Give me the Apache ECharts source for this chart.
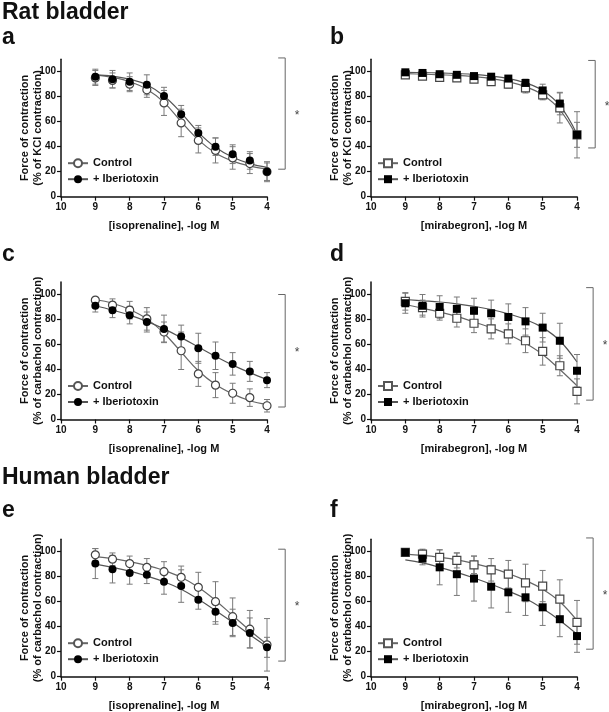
<!DOCTYPE html>
<html>
<head>
<meta charset="utf-8">
<script src="https://cdn.jsdelivr.net/npm/echarts@6/dist/echarts.min.js"></script>
<style>
html,body{margin:0;padding:0;background:#fff;}
#chart{width:609px;height:712px;}
</style>
</head>
<body>
<div id="chart"></div>
<script>
// ---------- data ----------
const concentrations = [9, 8.5, 8, 7.5, 7, 6.5, 6, 5.5, 5, 4.5, 4];
const xTickValues = [10, 9, 8, 7, 6, 5, 4];
const yTickValues = [0, 20, 40, 60, 80, 100];
const seriesNames = ['Control', '+ Iberiotoxin'];
const panelLetters = ['a', 'b', 'c', 'd', 'e', 'f'];
const sectionTitles = ['Rat bladder', 'Human bladder'];
const xTitles = ['[isoprenaline], -log M', '[mirabegron], -log M', '[isoprenaline], -log M', '[mirabegron], -log M', '[isoprenaline], -log M', '[mirabegron], -log M'];
const yTitles = ['Force of contraction\n(% of KCl contraction)', 'Force of contraction\n(% of KCl contraction)',
  'Force of contraction\n(% of carbachol contraction)', 'Force of contraction\n(% of carbachol contraction)',
  'Force of contraction\n(% of carbachol contraction)', 'Force of contraction\n(% of carbachol contraction)'];

// panel a
const aCtrlMean = [95, 93, 90, 85.5, 75, 59, 45, 37, 31, 26.5, 20];
const aCtrlErr  = [6, 6, 6, 6, 10, 11, 10, 10, 9, 8, 8];
const aIberMean = [96, 94, 92, 89.5, 80.5, 66, 51, 40, 34, 29, 20];
const aIberErr  = [6, 7, 7, 8, 7, 7, 6, 7, 7.5, 7, 7];
const aCtrlFit  = [97.5, 95.5, 92, 86, 75.5, 60, 45.5, 35, 28.5, 24.5, 22];
const aIberFit  = [97.5, 96.5, 94, 89.5, 80.5, 67, 51.5, 39.5, 31.5, 26.5, 23.5];
// panel b
const bCtrlMean = [97.5, 96.5, 95.5, 95, 94, 92, 90, 87, 81.5, 71, 49.5];
const bCtrlErr  = [1.5, 1.5, 1.5, 1.5, 2, 2, 3, 4, 4, 12, 10];
const bIberMean = [99.5, 99, 98, 97.5, 96.5, 96, 94.5, 91, 85, 74.5, 49.5];
const bIberErr  = [1, 1, 1, 1, 1.5, 1.5, 2, 3, 5, 9, 18.5];
const bCtrlFit  = [98.5, 98, 97.5, 97, 96, 94.5, 92, 88, 81.5, 69.5, 48];
const bIberFit  = [99.5, 99.3, 99, 98.5, 97.8, 96.5, 94.5, 91, 85, 73, 50];
// panel c
const cCtrlMean = [95.5, 91.5, 87.5, 80.5, 70, 55, 36.5, 27.5, 21, 17.5, 11];
const cCtrlErr  = [2, 5, 7, 9, 8, 15, 10, 10, 8, 7, 5];
const cIberMean = [91, 87.5, 83.5, 78, 72.5, 66.5, 57, 51, 44.5, 38.5, 31.5];
const cIberErr  = [5, 6, 7, 8, 11, 9, 12, 11, 9, 8, 6];
const cCtrlFit  = [96, 93, 88, 80.5, 69, 54, 39, 28, 20.5, 15, 12];
const cIberFit  = [91, 87.5, 83.5, 78.5, 72.5, 65.5, 58, 50.5, 43.5, 37.5, 32];
// panel d
const dCtrlMean = [94.5, 89.5, 85, 81, 77, 72.5, 68.5, 63, 54.5, 43, 22.5];
const dCtrlErr  = [7, 6, 5.5, 7, 7.5, 8, 8, 9.5, 11, 8, 10];
const dIberMean = [93, 91, 90, 88.5, 87, 85, 82, 78.5, 73.5, 63, 39];
const dIberErr  = [8, 9, 9, 9.5, 10, 10.5, 10.5, 11, 11.5, 14, 13];
const dCtrlFit  = [92, 89, 86, 82.5, 78, 73.5, 68, 61, 52, 40, 27];
const dIberFit  = [96, 95, 94, 92.5, 90.5, 88, 84.5, 80, 73.5, 63, 46];
// panel e
const eCtrlMean = [97.5, 94, 90.5, 87.5, 84, 79.5, 71.5, 60, 48, 38, 25.5];
const eCtrlErr  = [5, 5, 6, 7, 8, 9, 12, 16, 15, 15, 21];
const eIberMean = [90.5, 86, 83, 81.5, 76, 72.5, 61.5, 52, 43, 35, 23.5];
const eIberErr  = [12, 11, 9, 7, 10, 13, 7.5, 10, 11, 12, 8];
const eCtrlFit  = [96, 94.5, 92, 89, 85, 79.5, 71.5, 61, 49, 37, 26];
const eIberFit  = [90, 87.5, 84.5, 80.5, 76, 70, 62, 53, 43.5, 33.5, 24];
// panel f
const fCtrlMean = [99.5, 98, 95.5, 93, 89.5, 85.5, 82, 75, 72.5, 62, 43.5];
const fCtrlErr  = [1, 4, 6, 6, 7, 9, 11, 15, 12.5, 15.5, 17.5];
const fIberMean = [99.5, 94.5, 87.5, 82, 78.5, 72, 67.5, 63.5, 55.5, 46, 32.5];
const fIberErr  = [1, 5, 14, 17, 18, 17, 16, 14.5, 14.5, 14, 13];
const fCtrlFit  = [98, 97, 95.5, 93.5, 90.5, 87, 82.5, 77, 70, 60, 45];
const fIberFit  = [93.5, 91, 87.5, 83.5, 79, 74, 68.5, 62.5, 54.5, 45, 34];

// significance brackets: [x position (-log M), top value, bottom value]
const bracketA = [3.47, 111, 22];
const bracketB = [3.47, 109, 39];
const bracketC = [3.47, 100, 10];
const bracketD = [3.53, 105.5, 15.5];
const bracketE = [3.47, 102, 12.5];
const bracketF = [3.53, 111, 22];

// ---------- layout / style ----------
const FONT = '"Liberation Sans", Arial, Helvetica, sans-serif';
const gridLefts = [61, 371];
const gridTops = [59.2, 282, 539.2];
const gridW = 206, gridH = 137.5;

const panels = [
  {id:'a', ctrl:aCtrlMean, ctrlE:aCtrlErr, iber:aIberMean, iberE:aIberErr, ctrlFit:aCtrlFit, iberFit:aIberFit, br:bracketA, sym:'circle'},
  {id:'b', ctrl:bCtrlMean, ctrlE:bCtrlErr, iber:bIberMean, iberE:bIberErr, ctrlFit:bCtrlFit, iberFit:bIberFit, br:bracketB, sym:'rect'},
  {id:'c', ctrl:cCtrlMean, ctrlE:cCtrlErr, iber:cIberMean, iberE:cIberErr, ctrlFit:cCtrlFit, iberFit:cIberFit, br:bracketC, sym:'circle'},
  {id:'d', ctrl:dCtrlMean, ctrlE:dCtrlErr, iber:dIberMean, iberE:dIberErr, ctrlFit:dCtrlFit, iberFit:dIberFit, br:bracketD, sym:'rect'},
  {id:'e', ctrl:eCtrlMean, ctrlE:eCtrlErr, iber:eIberMean, iberE:eIberErr, ctrlFit:eCtrlFit, iberFit:eIberFit, br:bracketE, sym:'circle'},
  {id:'f', ctrl:fCtrlMean, ctrlE:fCtrlErr, iber:fIberMean, iberE:fIberErr, ctrlFit:fCtrlFit, iberFit:fIberFit, br:bracketF, sym:'rect'}
];

const grid = [], xAxis = [], yAxis = [], series = [], legend = [];

function errRender(params, api) {
  const x = api.value(0), lo = api.value(1), hi = api.value(2);
  const pLo = api.coord([x, lo]), pHi = api.coord([x, hi]);
  const w = 3;
  const st = {stroke:'#7a7a7a', lineWidth:1};
  return {type:'group', children:[
    {type:'line', shape:{x1:pLo[0], y1:pLo[1], x2:pHi[0], y2:pHi[1]}, style:st},
    {type:'line', shape:{x1:pLo[0]-w, y1:pLo[1], x2:pLo[0]+w, y2:pLo[1]}, style:st},
    {type:'line', shape:{x1:pHi[0]-w, y1:pHi[1], x2:pHi[0]+w, y2:pHi[1]}, style:st}
  ]};
}
function bracketRender(params, api) {
  const x = api.value(0), top = api.value(1), bot = api.value(2);
  const pT = api.coord([x, top]), pB = api.coord([x, bot]);
  const st = {stroke:'#666', lineWidth:1};
  return {type:'group', children:[
    {type:'line', shape:{x1:pT[0], y1:pT[1], x2:pB[0], y2:pB[1]}, style:st},
    {type:'line', shape:{x1:pT[0]-7, y1:pT[1], x2:pT[0], y2:pT[1]}, style:st},
    {type:'line', shape:{x1:pB[0]-7, y1:pB[1], x2:pB[0], y2:pB[1]}, style:st},
    {type:'text', x:pT[0]+12, y:(pT[1]+pB[1])/2 + 2, style:{text:'*', fontSize:12, fontFamily:FONT, fill:'#444', align:'center', verticalAlign:'middle'}}
  ]};
}

panels.forEach((p, i) => {
  const col = i % 2, row = Math.floor(i / 2);
  grid.push({left:gridLefts[col], top:gridTops[row], width:gridW, height:gridH, outerBoundsMode:'none', containLabel:false});
  xAxis.push({
    type:'value', gridIndex:i, min:4, max:10, interval:1, inverse:true,
    name:xTitles[i], nameLocation:'middle', nameGap:24, nameMoveOverlap:false,
    nameTextStyle:{fontSize:11, fontWeight:'bold', fontFamily:FONT, color:'#111'},
    axisLine:{lineStyle:{color:'#111', width:1.5}},
    axisTick:{show:true, length:4, lineStyle:{color:'#111', width:1.2}},
    axisLabel:{fontSize:10, fontWeight:'bold', fontFamily:FONT, color:'#111', margin:6},
    splitLine:{show:false}
  });
  yAxis.push({
    type:'value', gridIndex:i, min:0, max:110, interval:20,
    name:yTitles[i], nameLocation:'middle', nameGap:17, nameRotate:90, nameMoveOverlap:false,
    nameTextStyle:{fontSize:11, fontWeight:'bold', fontFamily:FONT, color:'#111', lineHeight:13},
    axisLine:{show:true, lineStyle:{color:'#111', width:1.5}},
    axisTick:{show:true, length:4, customValues:yTickValues, lineStyle:{color:'#111', width:1.2}},
    axisLabel:{fontSize:10, fontWeight:'bold', fontFamily:FONT, color:'#111', margin:5, customValues:yTickValues},
    splitLine:{show:false}
  });
  const ctrlName = p.id + ':' + seriesNames[0];
  const iberName = p.id + ':' + seriesNames[1];
  const zip = arr => concentrations.map((x, k) => [x, arr[k]]);
  const errData = (m, e) => concentrations.map((x, k) => [x, m[k] - e[k], m[k] + e[k]]);
  // fitted curves (carry the legend entries)
  series.push({type:'line', name:ctrlName, xAxisIndex:i, yAxisIndex:i, data:zip(p.ctrlFit), smooth:0.4,
    showSymbol:false, symbol: p.sym === 'circle' ? 'emptyCircle' : 'emptyRect', symbolSize:8,
    lineStyle:{color:'#666', width:1.2}, itemStyle:{color:'#555'}, z:2, silent:true});
  series.push({type:'line', name:iberName, xAxisIndex:i, yAxisIndex:i, data:zip(p.iberFit), smooth:0.4,
    showSymbol:false, symbol:p.sym, symbolSize:8,
    lineStyle:{color:'#555', width:1.2}, itemStyle:{color:'#000'}, z:2, silent:true});
  // error bars
  series.push({type:'custom', name:p.id+'-ctrl-err', xAxisIndex:i, yAxisIndex:i, data:errData(p.ctrl, p.ctrlE),
    renderItem:errRender, encode:{x:0, y:[1,2]}, z:3, silent:true, clip:false});
  series.push({type:'custom', name:p.id+'-iber-err', xAxisIndex:i, yAxisIndex:i, data:errData(p.iber, p.iberE),
    renderItem:errRender, encode:{x:0, y:[1,2]}, z:3, silent:true, clip:false});
  // points
  series.push({type:'scatter', name:p.id+'-ctrl-pts', xAxisIndex:i, yAxisIndex:i, data:zip(p.ctrl),
    symbol:p.sym, symbolSize:8,
    itemStyle:{color:'#fff', borderColor:'#444', borderWidth:1.2, opacity:1}, z:4, silent:true});
  series.push({type:'scatter', name:p.id+'-iber-pts', xAxisIndex:i, yAxisIndex:i, data:zip(p.iber),
    symbol:p.sym, symbolSize:8,
    itemStyle:{color:'#000', opacity:1}, z:5, silent:true});
  // significance bracket
  series.push({type:'custom', name:p.id+'-bracket', xAxisIndex:i, yAxisIndex:i, data:[p.br],
    renderItem:bracketRender, encode:{x:0, y:[1,2]}, z:3, silent:true, clip:false});
  legend.push({
    data:[ctrlName, iberName], orient:'vertical',
    left:gridLefts[col] + 6, top:gridTops[row] + gridH - 39,
    itemWidth:20, itemHeight:10, itemGap:5, padding:0, selectedMode:false,
    formatter: n => n.split(':')[1],
    textStyle:{fontSize:11, fontWeight:'bold', fontFamily:FONT, color:'#111'}
  });
});

const graphic = [
  {type:'text', left:2, top:1, style:{text:sectionTitles[0], fontSize:23, fontWeight:'bold', fontFamily:FONT, fill:'#111'}},
  {type:'text', left:2, top:466, style:{text:sectionTitles[1], fontSize:23, fontWeight:'bold', fontFamily:FONT, fill:'#111'}}
];
const letterPos = [[2, 26], [330, 26], [2, 243], [330, 243], [2, 499], [330, 499]];
panelLetters.forEach((L, i) => {
  graphic.push({type:'text', left:letterPos[i][0], top:letterPos[i][1],
    style:{text:L, fontSize:23, fontWeight:'bold', fontFamily:FONT, fill:'#111'}});
});

const chart = echarts.init(document.getElementById('chart'), null, {renderer:'canvas'});
chart.setOption({
  animation:false,
  backgroundColor:'#fff',
  grid, xAxis, yAxis, series, legend, graphic
});
</script>
</body>
</html>
